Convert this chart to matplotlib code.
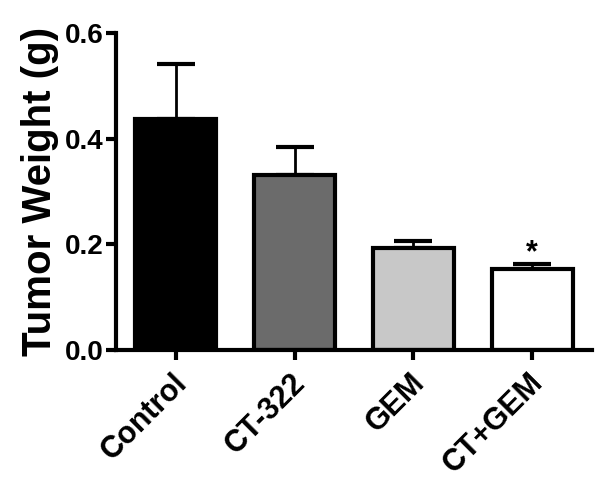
import matplotlib.pyplot as plt
import matplotlib.transforms as mtransforms
import numpy as np

# values
groups = ["Control", "CT-322", "GEM", "CT+GEM"]
weight = [0.437, 0.332, 0.193, 0.154]
sem = [0.105, 0.053, 0.013, 0.009]
fills = ["#000000", "#6b6b6b", "#c8c8c8", "#ffffff"]
yticks = [0.0, 0.2, 0.4, 0.6]

plt.rcParams['font.family'] = ['Liberation Sans', 'DejaVu Sans']
plt.rcParams['font.weight'] = 'bold'

fig = plt.figure(figsize=(6, 4.83), dpi=100)
ax = fig.add_axes([0.193, 0.275, 0.794, 0.657])

x = np.arange(len(groups))
ax.errorbar(x, weight, yerr=[np.zeros(len(sem)), sem], fmt='none',
            ecolor='black', elinewidth=2, capsize=14, capthick=3, zorder=1)
ax.bar(x, weight, width=0.68, color=fills, edgecolor='black',
       linewidth=3, zorder=2)

# significance mark over CT+GEM
ax.text(x[3], weight[3] + sem[3] - 0.008, "*", ha='center', va='bottom',
        fontsize=22, fontweight='bold')

for side in ['top', 'right']:
    ax.spines[side].set_visible(False)
for side in ['left', 'bottom']:
    ax.spines[side].set_linewidth(3)
ax.tick_params(width=3, length=7, pad=2)
ax.tick_params(axis='y', labelsize=20)

ax.set_xlim(-0.505, 3.505)
ax.set_ylim(0, 0.6)
ax.set_yticks(yticks)
ax.set_yticklabels(["%.1f" % t for t in yticks])
ax.set_xticks(x)
ax.set_xticklabels(groups, rotation=45, ha='right', rotation_mode='anchor',
                   fontsize=22)
shift = mtransforms.ScaledTranslation(-4 / 100, -5 / 100, fig.dpi_scale_trans)
for lab in ax.get_xticklabels():
    lab.set_transform(lab.get_transform() + shift)
ax.set_ylabel("Tumor Weight (g)", fontsize=29, fontweight='bold', labelpad=4)

fig.savefig('out.png', dpi=100)
